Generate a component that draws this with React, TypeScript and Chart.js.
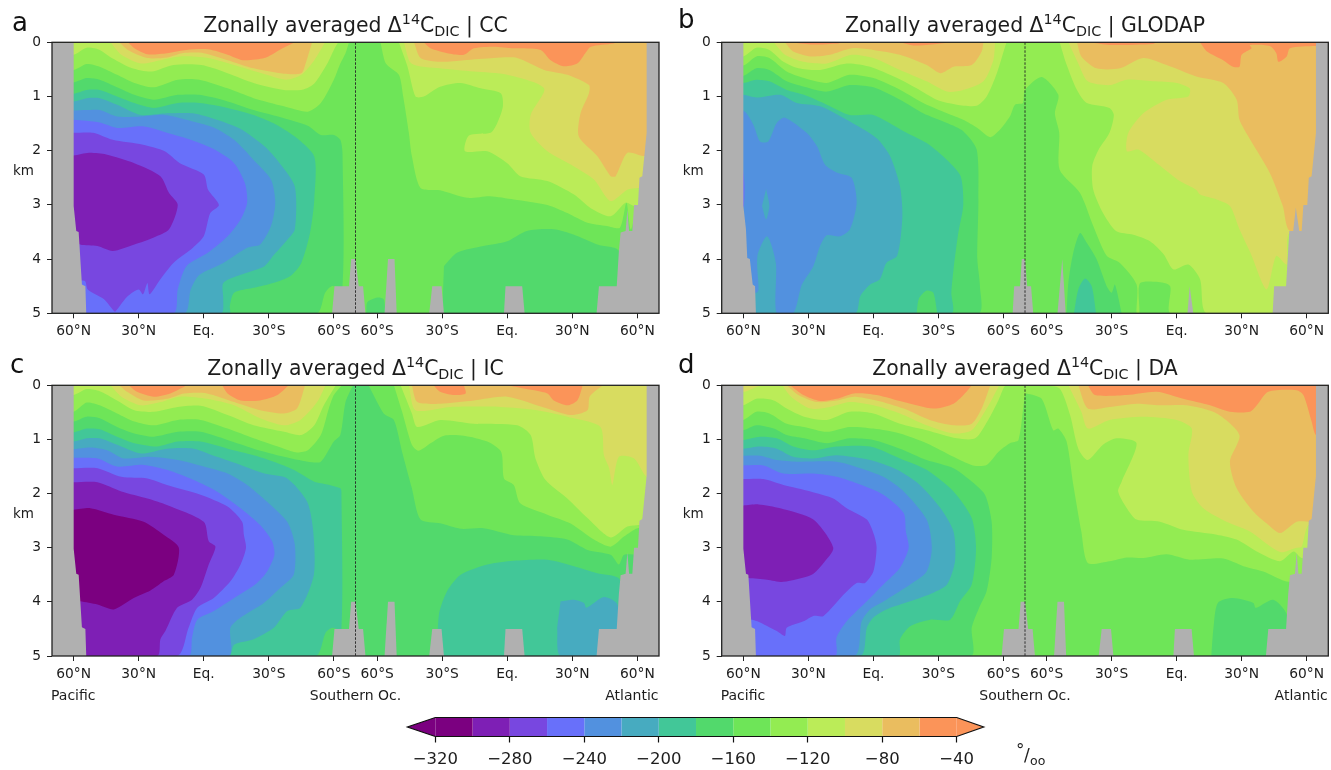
import React, { useEffect, useRef } from "react";
import { Chart, registerables } from "chart.js";
Chart.register(...registerables);

const FONT = '"DejaVu Sans"';
const INK = "#1c1c1c";
const bandColors = ["#7b0080","#7e1fb5","#7847e0","#6870fa","#5291df","#47abc0","#42c798","#52d96c","#6ee558","#93ec52","#bbec58","#d8dc60","#eabd5f","#fb9459"];
const [C320,C300,C280,C260,C240,C220,C200,C180,C160,C140,C120,C100,C80,C60] = bandColors;
const LAND = "#b0b0b0";

const xTickValues = [-130,-100,-70,-40,-10,10,40,70,100,130];
const xTickLabels = ["60°N","30°N","Eq.","30°S","60°S","60°S","30°S","Eq.","30°N","60°N"];
const yTickValues = [0,1,2,3,4,5];
const frame = [[-140,0],[140,0],[140,5],[-140,5]];
const dateLine = [[0,0],[0,5]];

// Land masks (section position, km)
const landWestA = [[-140,0],[-130,0],[-130,3.02],[-128.8,3.48],[-127.7,3.5],[-126.2,4.47],[-124.6,4.5],[-124.2,5],[-140,5]];
const landMidA = [[-10.8,5],[-9.7,4.5],[-3,4.5],[-2,4],[0,4],[1.5,4.5],[3.5,4.5],[4.6,5]];
const landR1A = [[13.4,5],[15,4],[18,4],[19,5]];
const landR2A = [[34,5],[35.4,4.5],[39.7,4.5],[40.8,5]];
const landR3A = [[68.5,5],[69.2,4.5],[76.9,4.5],[78,5]];
const landEastA = [[111.2,5],[112.3,4.5],[120.5,4.5],[121.5,3.85],[122.3,3.51],[124.6,3.48],[125.4,3.09],[126.2,3.48],[127.7,3.48],[128.5,3],[130.3,3],[131,2.5],[132.3,2.47],[134.3,1.67],[134.3,0],[140,0],[140,5]];
const landWestB = [[-140,0],[-130,0],[-130,3.02],[-128.8,3.45],[-128.2,3.98],[-127,4],[-125.7,4.47],[-124.6,4.5],[-124.2,5],[-140,5]];
const landMidB = [[-5.7,5],[-5,4.5],[-2.3,4.5],[-1.5,4],[0,4],[1,4.5],[2.8,4.5],[3.8,5]];
const landR1B = [[15,5],[17.2,4],[18.8,5]];
const landR3B = [[75,5],[76,4.5],[77.7,5]];
const landEastB = [[114.3,5],[115,4.5],[120.5,4.5],[122,3.48],[123.8,3.48],[125,3.05],[126.6,3.48],[127.7,3.48],[128.5,3],[130.3,3],[131,2.5],[132.3,2.47],[134.3,1.67],[134.3,0],[140,0],[140,5]];

// Panel a: CC
const aW1 = [[-140,0],[-140,.51],[-130,.51],[-124,.4],[-118,.45],[-110,.6],[-102,.75],[-93,.83],[-82,.69],[-72,.69],[-59,.85],[-47,1.03],[-33,1.18],[-22,1.28],[-16,1.12],[-10,.69],[-7,.39],[-4.6,.2],[-3,0]];
const aW2 = [[-140,0],[-140,.23],[-130,.23],[-124,.1],[-118,.14],[-112,.3],[-103,.48],[-94,.54],[-84,.42],[-71,.42],[-59,.57],[-47,.75],[-33,.88],[-24,.87],[-19,.76],[-13,.39],[-10,.14],[-8,0]];
const aW3 = [[-113,0],[-108,.23],[-99,.39],[-90,.33],[-81,.26],[-68,.29],[-56,.42],[-41,.6],[-32,.69],[-25,.6],[-19,.33],[-14,0]];
const aW4 = [[-109,0],[-105,.14],[-96,.29],[-87,.28],[-80,.2],[-70,.2],[-59,.33],[-47,.48],[-33,.58],[-25,.57],[-23,.39],[-20,0]];
const aW5 = [[-105,0],[-102,.11],[-96,.22],[-87,.2],[-78,.14],[-68,.13],[-59,.23],[-52,.33],[-42,.29],[-35,.14],[-28,0]];
const aC1 = [[-140,.74],[-130,.74],[-124,.66],[-118,.69],[-110,.83],[-102,.97],[-93,1.06],[-82,.97],[-72,.97],[-59,1.09],[-47,1.25],[-33,1.4],[-22,1.54],[-16,1.71],[-10,1.71],[-7,1.8],[-6,2.04],[-6,4.5],[-11,4.5],[-14,4.62],[-18,5],[-140,5]];
const aC2 = [[-140,.95],[-130,.95],[-124,.88],[-118,.88],[-110,1],[-102,1.12],[-93,1.21],[-82,1.12],[-72,1.12],[-59,1.21],[-47,1.34],[-38,1.49],[-28,1.74],[-19,2.11],[-19,2.9],[-21,3.52],[-25,4.07],[-30,4.31],[-38,4.44],[-47,4.53],[-56,4.62],[-58,4.87],[-58,5],[-140,5]];
const aC3 = [[-140,1.09],[-130,1.09],[-124,1.03],[-118,1.03],[-110,1.15],[-99,1.34],[-87,1.31],[-75,1.31],[-64,1.43],[-53,1.6],[-42,1.92],[-35,2.23],[-28,2.66],[-28,3.45],[-32,3.67],[-38,3.94],[-42,4.13],[-53,4.29],[-61,4.44],[-61,4.74],[-62,5],[-140,5]];
const aC4 = [[-140,1.26],[-130,1.26],[-124,1.25],[-118,1.25],[-110,1.37],[-99,1.37],[-88,1.34],[-78,1.43],[-65,1.58],[-56,1.8],[-47,2.17],[-39,2.53],[-37,2.96],[-39,3.39],[-44,3.73],[-50,3.79],[-61,4.07],[-72,4.29],[-76,4.56],[-79,5],[-140,5]];
const aC5 = [[-140,1.43],[-130,1.43],[-118,1.48],[-110,1.58],[-98,1.55],[-87,1.67],[-76,1.8],[-65,1.98],[-56,2.23],[-51,2.6],[-50,2.96],[-53,3.27],[-59,3.58],[-68,3.88],[-78,4.13],[-82,4.56],[-84,5],[-140,5]];
const aC6 = [[-140,1.67],[-130,1.67],[-121,1.67],[-112,1.8],[-98,1.89],[-88,2.01],[-81,2.23],[-70,2.44],[-68,2.72],[-63,3],[-67,3.15],[-70,3.58],[-75,3.79],[-84,4.07],[-90,4.37],[-95,4.65],[-96,4.44],[-98,4.65],[-100,4.56],[-105,4.68],[-110,4.93],[-111,4.97],[-116,4.74],[-123.5,4.56],[-125,4.4],[-140,4.4]];
const aC7 = [[-140,2.09],[-130,2.09],[-123,2.04],[-115,2.07],[-102,2.23],[-90,2.47],[-86,2.78],[-82,3],[-86,3.45],[-93,3.6],[-102,3.73],[-112,3.85],[-119,3.76],[-127,3.73],[-140,3.5]];
const aAW1 = [[11.5,0],[14,.39],[20,.6],[22,1],[24.6,1.67],[26,2.1],[30,2.69],[39,2.73],[51.5,2.87],[62,2.84],[73,2.9],[88.5,3],[97.7,3.15],[107,3.33],[116,3.39],[122,3.42],[125,2.96],[127,3.45],[131,3.02],[140,3],[140,0]];
const aAW2 = [[20,0],[24,.45],[27.7,1],[31.5,1],[39,.82],[48.5,.75],[57.7,.85],[67,.94],[68,1.18],[65.4,1.49],[62.3,1.67],[52.3,1.72],[50.5,2.01],[60.8,2.01],[70,2.23],[76,2.47],[88.5,2.56],[100.8,2.81],[108.5,3.06],[117.7,3.21],[124.6,2.96],[128.5,3.02],[140,3],[140,0]];
const aAW3 = [[22.3,0],[25.8,.39],[39,.48],[54.6,.54],[70,.6],[87,.85],[80.8,1.34],[80.8,1.67],[88.5,2.01],[100.8,2.29],[110,2.53],[117.7,2.93],[125.4,2.72],[130.5,2.69],[140,2.7],[140,0]];
const aAW4 = [[27,0],[30,.29],[39,.36],[50,.33],[63.8,.29],[74.6,.29],[87,.51],[97.7,.6],[107.7,.79],[107.7,.94],[103.8,1.31],[103,1.74],[111.5,2.1],[117.7,2.47],[120,2.47],[125.4,2.04],[133,2.1],[140,2.1],[140,0]];
const aAW5 = [[31.5,0],[34.6,.11],[42.3,.2],[50,.23],[54.6,.11],[63.8,.08],[73,.11],[85.4,.14],[90,.33],[96,.44],[102.3,.39],[106,.2],[108.5,.08],[119,.02],[120.8,0]];
const aSC1 = [[5,5],[5.4,4.8],[10,4.71],[13,4.74],[13.8,5]];
const aAC1 = [[40.8,4.13],[47,3.88],[59,3.76],[70,3.67],[79,3.48],[91.5,3.45],[100.8,3.55],[111.5,3.73],[121.5,3.85],[121.5,5],[40,5]];

// Panel b: GLODAP
const bW1 = [[-140,.43],[-130,.43],[-124,.26],[-118,.29],[-110,.54],[-102,.66],[-91.5,.75],[-81,.6],[-70,.66],[-59,.85],[-47,1.12],[-36,1.31],[-28.5,1.43],[-22,1.58],[-16,1.75],[-11.5,1.61],[-7,1.37],[-4.6,1.15],[-1,1.12],[0,.88],[7.7,.64],[15.4,.97],[13.8,1.31],[15.8,1.67],[16,2.35],[25.4,2.78],[31.5,3.39],[37.7,3.94],[43.8,4.07],[51.5,4.47],[51.5,5],[52.8,5],[53,4.45],[60.8,4.42],[67,4.5],[67.4,5],[140,5],[140,0],[-140,0]];
const bW2 = [[-140,0],[-140,.26],[-130,.26],[-124,.1],[-118,.14],[-111.5,.36],[-104.6,.48],[-94.6,.51],[-82.3,.39],[-71.5,.45],[-59,.66],[-50,.85],[-40.8,1.06],[-31.5,1.15],[-22.3,1.17],[-17.7,1],[-13,.57],[-9.2,.08],[-8.5,0]];
const bW3 = [[-116,0],[-110.8,.23],[-102.3,.36],[-91.5,.39],[-80,.23],[-70,.29],[-57.7,.51],[-45.4,.72],[-36,.91],[-28.5,.88],[-19.2,.72],[-14.6,.33],[-13.8,0]];
const bW4 = [[-110.8,0],[-107,.17],[-99,.26],[-90,.23],[-80,.11],[-70,.14],[-57.7,.23],[-45.4,.42],[-39,.57],[-33,.45],[-24.6,.42],[-20,.17],[-19.2,0]];
const bW5a = [[-108,0],[-99,.04],[-86,.02],[-85,0]];
const bW5b = [[-57.7,0],[-51.5,.06],[-40.8,.03],[-33,0]];
const bAW2 = [[16,0],[19,.39],[24,.88],[28.5,1.12],[39,1.21],[41,1.34],[39,1.67],[34,1.98],[31,2.29],[31.5,2.72],[36,3.15],[42,3.48],[50,3.55],[57.7,3.67],[64,3.91],[68.5,4.19],[75.4,4.1],[80.8,4.37],[84,5],[140,5],[140,0]];
const bAW3 = [[20,0],[24.6,.39],[29,.72],[39,.79],[47,.69],[59,.72],[70,.75],[76,.85],[75.4,1],[65.4,1.06],[54.6,1.31],[47.7,1.67],[47,2.01],[52.3,1.98],[60.8,2.23],[71.5,2.56],[79,2.72],[80.8,2.81],[88.5,2.9],[94.6,3.02],[99,3.45],[104,3.88],[111.5,4.56],[116,3.94],[120.8,4.1],[122,3.52],[140,3.5],[140,0]];
const bAW4 = [[24,0],[26,.26],[33,.48],[43.8,.48],[54.6,.29],[65.4,.42],[79,.63],[91.5,.75],[97.7,1.06],[99,1.43],[104,1.8],[113,2.41],[119,3.02],[122.3,3.48],[140,3.48],[140,0]];
const bAW5a = [[30,0],[39,.05],[59,.03],[60.8,0]];
const bAW5b = [[80.8,0],[84,.17],[91.5,.33],[96,.45],[99,.45],[100,.23],[104.6,.11],[103.8,.05],[113,.07],[116,.2],[117,.36],[120.8,.26],[122.3,.11],[134,.07],[140,.07],[140,0]];
const bC1 = [[-140,.62],[-130,.62],[-124,.48],[-118,.51],[-110,.72],[-102,.82],[-91.5,.91],[-81,.79],[-70,.83],[-57.7,1.06],[-47,1.31],[-36,1.49],[-28.5,1.64],[-22.3,1.98],[-21.5,2.9],[-22,4],[-20.8,4.5],[-21.5,5],[-140,5]];
const bC2 = [[-140,.75],[-130,.75],[-124,.69],[-118,.72],[-110,.88],[-102,.97],[-91.5,1.15],[-81,1.34],[-70,1.34],[-56,1.64],[-45.4,1.86],[-36,2.17],[-29.7,2.47],[-28.5,3],[-30.8,3.52],[-33,4.19],[-34,4.62],[-34,5],[-140,5]];
const bC1Lobe = [[-50,5],[-49,4.73],[-45.4,4.58],[-42.3,4.62],[-40.5,5]];
const bC3 = [[-140,.97],[-130,.97],[-124,1.02],[-113,.97],[-105.4,1.12],[-94.6,1.18],[-82.3,1.43],[-68.5,1.77],[-62.3,2.1],[-57.7,2.66],[-56.6,3.21],[-59,3.94],[-64,4.07],[-67,4.37],[-71.5,4.47],[-76,4.68],[-78.5,5],[-140,5]];
const bC4 = [[-140,1.26],[-130,1.26],[-125.4,1.52],[-122.3,1.83],[-118.5,1.83],[-114.6,1.49],[-110.8,1.39],[-100.8,1.67],[-96,1.92],[-92.3,2.26],[-87,2.4],[-80,2.5],[-77.7,2.96],[-80.8,3.45],[-85.4,3.58],[-91.5,3.56],[-94.6,3.76],[-97.7,4.13],[-103,4.47],[-107,5],[-114.6,5],[-115,4.07],[-119,3.58],[-123.5,3.94],[-123,4.56],[-124,4.62],[-140,4.62]];
const bC3Hole = [[-119.5,2.7],[-118,3.02],[-119.5,3.27],[-121.4,3.02]];
const bC5 = [[-131,2.1],[-129.5,2.6],[-129.8,3.03],[-131,3.03]];
const bAC1 = [[19.2,5],[20,4.44],[22.3,3.88],[25.4,3.52],[28.5,3.7],[33,4],[37.7,4.5],[40,4.62],[41.5,4.47],[44.6,5]];
const bAC2 = [[22.6,5],[24.6,4.56],[27.7,4.36],[30.8,4.5],[32.8,5]];

// Panel c: IC
const cW0 = [[-140,0],[-140,.67],[-130,.67],[-124,.58],[-118,.61],[-110,.77],[-102,.89],[-93,.95],[-82,.86],[-71.5,.86],[-59,1.01],[-47,1.17],[-33,1.32],[-22,1.41],[-16,1.41],[-10,1.04],[-7,.92],[-4.6,.31],[-1.5,.03],[-.8,0]];
const cW1 = [[-140,0],[-140,.49],[-130,.49],[-124,.32],[-118,.37],[-110,.52],[-102,.67],[-93,.74],[-82,.64],[-71.5,.64],[-59,.8],[-47,.98],[-33,1.17],[-27,1.24],[-22,1.2],[-16,.92],[-12.3,.43],[-10,.18],[-7,.03],[-6,0]];
const cW2 = [[-140,0],[-140,.18],[-130,.18],[-124,.07],[-118,.11],[-110,.28],[-102,.46],[-93,.49],[-82,.4],[-71.5,.38],[-59,.55],[-47,.74],[-33,.86],[-25,.92],[-19,.74],[-14.6,.37],[-10,.06],[-9,0]];
const cW3 = [[-113,0],[-108,.21],[-99,.37],[-90,.31],[-81,.21],[-68.5,.25],[-56,.37],[-44,.61],[-33,.74],[-25.4,.64],[-17.7,.31],[-13.8,0]];
const cW4 = [[-109,0],[-105.4,.12],[-97.7,.28],[-87,.25],[-79,.15],[-68.5,.15],[-56,.31],[-44,.46],[-33,.52],[-27,.43],[-23.5,.03],[-23.5,0]];
const cW5a = [[-104.6,0],[-100.8,.12],[-93,.21],[-85.4,.15],[-77.7,0]];
const cW5b = [[-61.5,0],[-59,.15],[-53,.28],[-44,.28],[-36,.18],[-30.8,0]];
const cC2 = [[-140,.87],[-130,.87],[-124,.8],[-118,.81],[-110,.95],[-102,1.07],[-91.5,1.13],[-82,1.04],[-71.5,1.04],[-59,1.17],[-47,1.29],[-37.7,1.41],[-28.5,1.56],[-19,1.78],[-13,1.83],[-7,1.9],[-6.5,1.96],[-6.5,4.5],[-10.8,4.48],[-13.8,4.57],[-18.5,5],[-140,5]];
const cC3 = [[-140,1.04],[-130,1.04],[-124,.98],[-118,.98],[-110,1.1],[-99,1.26],[-87,1.17],[-74.6,1.17],[-64,1.32],[-53,1.47],[-42,1.63],[-31.5,1.72],[-22.3,2.15],[-19.5,2.7],[-19.2,3.5],[-25.4,4.11],[-31.5,4.17],[-37.7,4.48],[-47,4.69],[-56,4.79],[-58.5,5],[-140,5]];
const cC4 = [[-140,1.18],[-130,1.18],[-122.3,1.15],[-114.6,1.2],[-107,1.35],[-94.6,1.32],[-82,1.38],[-70,1.5],[-59,1.63],[-50,1.84],[-40.8,2.15],[-31.5,2.52],[-28,2.94],[-28.5,3.5],[-34.6,3.74],[-42.3,4.02],[-53,4.29],[-57.7,4.48],[-58.5,5],[-140,5]];
const cC5 = [[-140,1.34],[-130,1.34],[-119,1.35],[-110,1.5],[-97.7,1.47],[-87,1.56],[-74.6,1.75],[-64,1.96],[-53,2.27],[-44,2.58],[-38.5,2.88],[-37.4,3.13],[-40.8,3.44],[-45.4,3.65],[-56,3.93],[-65.4,4.17],[-73,4.33],[-75.4,4.66],[-77,5],[-140,5]];
const cC6 = [[-140,1.53],[-130,1.53],[-119,1.53],[-108,1.69],[-96,1.72],[-87,1.84],[-71.5,2.02],[-59,2.24],[-52.3,2.52],[-51.5,2.76],[-50.5,3],[-53,3.31],[-57.7,3.62],[-65.4,3.93],[-73,4.11],[-77,4.48],[-82.3,5],[-140,5]];
const cC7 = [[-140,1.79],[-130,1.79],[-119,1.79],[-108,1.96],[-96,2.09],[-87,2.21],[-70,2.52],[-67.7,2.88],[-64.6,2.98],[-67.7,3.31],[-71.5,3.74],[-75.4,3.96],[-82.3,4.11],[-87.7,4.54],[-90,4.69],[-91.5,5],[-140,5]];
const cC8 = [[-140,2.3],[-130,2.3],[-122.3,2.27],[-111.5,2.39],[-97.7,2.52],[-88.5,2.76],[-81.5,3],[-83.8,3.5],[-88.5,3.62],[-94.6,3.79],[-102.3,3.93],[-111.5,4.14],[-119,4.05],[-127,3.99],[-140,3.9]];
const cAW0 = [[6,0],[13,.52],[17.7,.64],[21.5,1.23],[26,1.9],[30,2.48],[39,2.55],[48.5,2.65],[59,2.64],[73,2.77],[85.4,2.79],[97.7,2.85],[107,3.04],[117.7,3.13],[121.5,3.31],[124,3.13],[140,3.1],[140,0]];
const cAW1 = [[17.7,0],[21.5,.49],[26,1.1],[29,1.21],[34.6,1.07],[40.8,.93],[50,.93],[60.8,1.04],[67.2,1.23],[68.5,1.72],[73,1.84],[76,2.18],[88.5,2.39],[99,2.55],[110,2.85],[117.7,2.98],[124,2.79],[130,2.64],[140,2.6],[140,0]];
const cAW2 = [[20.8,0],[26,.52],[28.5,.77],[39,.64],[54.6,.71],[74.6,.74],[80.8,.92],[83,1.35],[87.7,1.75],[97.7,2.09],[107,2.45],[117.7,2.81],[125.4,2.61],[130.5,2.58],[140,2.5],[140,0]];
const cAW3 = [[24.6,0],[27.7,.46],[43.8,.4],[67,.4],[83.8,.46],[100.8,.61],[113,.77],[114.6,1.29],[117,1.53],[118.5,1.84],[121.5,1.32],[128.5,1.35],[134.3,1.69],[140,1.7],[140,0]];
const cAW4 = [[26,0],[28.5,.31],[39,.34],[54.6,.28],[70,.21],[88.5,.43],[99,.55],[107,.46],[108,.21],[113,.03],[114.6,0]];
const cAW5a = [[36,0],[39,.12],[45,.18],[50.8,.15],[50,0]];
const cAW5b = [[70,0],[77.7,.06],[88.5,.15],[91.5,.28],[97.7,.37],[102.3,.28],[104.6,.03],[104.6,0]];
const cAC2 = [[37.7,5],[38.5,4.23],[42.3,3.8],[48.5,3.5],[60.8,3.31],[73,3.24],[88.5,3.22],[100.8,3.34],[111.5,3.47],[122,3.59],[122,5]];
const cAC3 = [[94.6,3.99],[100.8,3.96],[105.4,4.02],[106.5,4.11],[114.6,3.91],[120.8,4.05],[122,5],[94.6,5],[93,4.48]];

// Panel d: DA
const dW1 = [[-140,.64],[-130,.64],[-124,.49],[-118,.52],[-110,.71],[-102,.77],[-91.5,.86],[-81,.77],[-70,.8],[-57.7,.89],[-45.4,1.07],[-33,1.32],[-24,1.48],[-17.7,1.47],[-12.3,1.23],[-7,1.07],[-3,1.01],[0,.17],[.8,.15],[7.7,.25],[13,.83],[15.4,.8],[19.2,1.04],[22.3,1.84],[26,2.7],[29,3.28],[39,3.25],[47,3.18],[54.6,3.19],[65.4,3.12],[76,3.22],[91.5,3.2],[100.8,3.34],[110,3.44],[121.5,3.63],[140,3.6],[140,0],[-140,0]];
const dW2 = [[-140,0],[-140,.37],[-130,.37],[-124,.25],[-116,.28],[-110,.43],[-102,.58],[-91.5,.64],[-81,.49],[-70,.52],[-57.7,.71],[-45.4,.83],[-31.5,.98],[-23,.98],[-17,.64],[-12.3,.28],[-10,.06],[-9,0]];
const dW3 = [[-112,0],[-108,.21],[-99,.43],[-90,.4],[-81,.31],[-70,.37],[-57.7,.52],[-45.4,.74],[-33,.89],[-24.6,.83],[-17.7,.43],[-12.3,.03],[-12,0]];
const dW3Left = [[-140,0],[-130,.12],[-124,.03],[-121,0]];
const dW4 = [[-110,0],[-104.6,.18],[-96,.31],[-87,.28],[-79,.21],[-68.5,.28],[-56,.43],[-44,.64],[-33,.74],[-24.6,.71],[-20,.43],[-16,0]];
const dW5 = [[-108.5,0],[-102.3,.18],[-94.6,.29],[-87,.25],[-79,.15],[-68.5,.18],[-56,.31],[-42.3,.43],[-33,.34],[-27,.12],[-24.6,0]];
const dC1 = [[-140,.83],[-130,.83],[-124,.74],[-116,.8],[-110,.92],[-102,.98],[-91.5,1.07],[-81,.98],[-70,1.01],[-57.7,1.17],[-45.4,1.38],[-33,1.53],[-25.4,1.75],[-18.5,2.02],[-15.4,2.52],[-15.4,3.19],[-17.7,3.8],[-21.5,4.14],[-24.6,4.48],[-25,5],[-140,5]];
const dC2 = [[-140,1.01],[-130,1.01],[-122.3,.95],[-114.6,.98],[-107,1.13],[-97.7,1.2],[-87,1.13],[-71.5,1.13],[-57.7,1.35],[-45.4,1.56],[-33,1.96],[-24.6,2.45],[-22.6,3],[-24.6,3.68],[-30,3.99],[-34.6,4.33],[-43.8,4.33],[-53,4.45],[-57.7,4.69],[-58.5,5],[-140,5]];
const dC3 = [[-140,1.17],[-130,1.17],[-122.3,1.13],[-114.6,1.17],[-107,1.32],[-97.7,1.35],[-87,1.29],[-71.5,1.38],[-59,1.56],[-48.5,1.84],[-39,2.27],[-33,2.7],[-32.3,3.25],[-36,3.68],[-42.3,3.83],[-53,3.99],[-64,4.14],[-70,4.29],[-73,4.48],[-76,5],[-140,5]];
const dC4 = [[-140,1.3],[-130,1.3],[-122.3,1.3],[-114.6,1.38],[-105.4,1.41],[-87,1.41],[-76,1.53],[-65.4,1.69],[-56,1.96],[-45.4,2.48],[-43,3],[-45.4,3.44],[-53,3.68],[-64,3.96],[-71.5,4.14],[-75.4,4.36],[-78.8,5],[-140,5]];
const dC5 = [[-140,1.48],[-130,1.48],[-120.8,1.48],[-111.5,1.63],[-97.7,1.63],[-87,1.69],[-77.7,1.81],[-65.4,2.02],[-56,2.36],[-55,2.7],[-53.7,3],[-57.7,3.37],[-65.4,3.68],[-73,3.99],[-82.3,4.36],[-87,4.66],[-87.7,5],[-140,5]];
const dC6 = [[-140,1.73],[-130,1.73],[-120.8,1.73],[-111.5,1.84],[-99,1.96],[-88.5,2.09],[-82.3,2.27],[-73,2.48],[-69.7,2.76],[-68.5,3],[-70,3.44],[-73.8,3.65],[-77.7,3.65],[-83.8,3.87],[-93,4.26],[-97.7,4.26],[-102.3,4.36],[-110,4.48],[-110.8,4.63],[-114.6,4.54],[-123.5,4.36],[-126,4.33],[-140,4.3]];
const dC7 = [[-140,2.22],[-130,2.22],[-123,2.2],[-113,2.27],[-97.7,2.48],[-88.5,3],[-93,3.28],[-98.5,3.5],[-111.5,3.63],[-119,3.59],[-127.7,3.56],[-140,3.5]];
const dAW2 = [[9.2,0],[16,.06],[20.8,.55],[24.6,1.17],[29,1.38],[36,1.1],[42.3,.98],[51.5,1.07],[44.6,1.78],[43,1.96],[47,2.27],[51.5,2.48],[62.3,2.52],[73,2.67],[88.5,2.76],[97.7,2.85],[107,3.07],[117.7,3.25],[124,3.07],[127.7,3.19],[140,3.2],[140,0]];
const dAW3 = [[20,0],[26,.49],[29,.8],[39,.64],[54.6,.58],[70,.64],[77,.8],[75.4,1.29],[77,1.96],[82.3,2.27],[93,2.52],[103.8,2.7],[117.7,3.08],[125.4,3],[127.7,2.98],[130.8,2.58],[140,2.5],[140,0]];
const dAW4 = [[24.6,0],[29,.43],[39,.4],[51.5,.34],[62.3,.37],[74.6,.37],[88.5,.52],[99,.92],[94.6,1.41],[97.7,1.9],[105.4,2.33],[111.5,2.55],[117.7,2.73],[125.4,2.52],[132.3,2.52],[140,2.5],[140,0]];
const dAW5 = [[29,0],[32.3,.18],[47,.18],[60.8,.12],[73,.25],[85.4,.37],[94.6,.49],[103.8,.49],[107,.37],[112.3,.12],[125.4,.09],[128.5,.18],[132.3,.67],[134.3,.92],[140,1],[140,0]];
const dAC1 = [[86,5],[87,4.48],[89,4.02],[96,3.93],[105.4,4.02],[106.5,4.11],[114.6,3.96],[120.8,4.23],[122,5]];

const landA = [[landWestA,LAND],[landMidA,LAND],[landR1A,LAND],[landR2A,LAND],[landR3A,LAND],[landEastA,LAND]];
const landB = [[landWestB,LAND],[landMidB,LAND],[landR1B,LAND],[landR3B,LAND],[landEastB,LAND]];

const layersA = [[frame,C160],[aW1,C140],[aW2,C120],[aW3,C100],[aW4,C80],[aW5,C60],[aAW1,C140],[aAW2,C120],[aAW3,C100],[aAW4,C80],[aAW5,C60],[aC1,C180],[aSC1,C180],[aAC1,C180],[aC2,C200],[aC3,C220],[aC4,C240],[aC5,C260],[aC6,C280],[aC7,C300],...landA];
const layersB = [[frame,C160],[bW1,C140],[bW2,C120],[bW3,C100],[bW4,C80],[bW5a,C60],[bW5b,C60],[bAW2,C120],[bAW3,C100],[bAW4,C80],[bAW5a,C60],[bAW5b,C60],[bC1,C180],[bC2,C200],[bC1Lobe,C180],[bC3,C220],[bC4,C240],[bC3Hole,C220],[bC5,C260],[bAC1,C180],[bAC2,C200],...landB];
const layersC = [[frame,C180],[cW0,C160],[cW1,C140],[cW2,C120],[cW3,C100],[cW4,C80],[cW5a,C60],[cW5b,C60],[cAW0,C160],[cAW1,C140],[cAW2,C120],[cAW3,C100],[cAW4,C80],[cAW5a,C60],[cAW5b,C60],[cC2,C200],[cC3,C220],[cC4,C240],[cC5,C260],[cC6,C280],[cC7,C300],[cC8,C320],[cAC2,C200],[cAC3,C220],...landA];
const layersD = [[frame,C160],[dW1,C140],[dW2,C120],[dW3,C100],[dW3Left,C100],[dW4,C80],[dW5,C60],[dAW2,C120],[dAW3,C100],[dAW4,C80],[dAW5,C60],[dC1,C180],[dC2,C200],[dC3,C220],[dC4,C240],[dC5,C260],[dC6,C280],[dC7,C300],[dAC1,C180],...landA];

// Colour bar
const cbEdges = [-320,-300,-280,-260,-240,-220,-200,-180,-160,-140,-120,-100,-80,-60,-40];
const cbTicks = [-320,-280,-240,-200,-160,-120,-80,-40];
const cbMin = -335;
const cbMax = -25.5;

const polygonSet = (pts, color, tension = 0) => ({
  data: pts.map(([x, y]) => ({ x, y })),
  showLine: true, fill: "shape", backgroundColor: color, borderColor: color,
  borderWidth: 0, pointRadius: 0, tension,
});

const drawText = (ctx, text, x, y, size, align = "center", color = INK) => {
  ctx.font = `${size}px ${FONT}`;
  ctx.fillStyle = color;
  ctx.textAlign = align;
  ctx.textBaseline = "alphabetic";
  ctx.fillText(text, x, y);
};

const drawTitle = (ctx, cx, y, tail) => {
  const big = 20.4, small = 14.3;
  const parts = [["Zonally averaged \u0394", big, 0], ["14", small, -8], ["C", big, 0], ["DIC", small, 4], [" | " + tail, big, 0]];
  let total = 0;
  for (const [t, s] of parts) { ctx.font = `${s}px ${FONT}`; total += ctx.measureText(t).width; }
  let x = cx - total / 2;
  for (const [t, s, dy] of parts) {
    drawText(ctx, t, x, y + dy, s, "left");
    x += ctx.measureText(t).width;
  }
};

const panels = [
  { tail: "CC", letter: "a", letterX: 12, letterY: 31, layers: layersA, left: 0, top: 0, width: 668, height: 345, axL: 52, axR: 659, axT: 42.3, axB: 313.3, footer: false },
  { tail: "GLODAP", letter: "b", letterX: 678, letterY: 28, layers: layersB, left: 668, top: 0, width: 663, height: 345, axL: 721.7, axR: 1328.3, axT: 42.3, axB: 313.3, footer: false },
  { tail: "IC", letter: "c", letterX: 10, letterY: 373, layers: layersC, left: 0, top: 345, width: 668, height: 365, axL: 52, axR: 659, axT: 385.3, axB: 656, footer: true },
  { tail: "DA", letter: "d", letterX: 678, letterY: 373, layers: layersD, left: 668, top: 345, width: 663, height: 365, axL: 721.7, axR: 1328.3, axT: 385.3, axB: 656, footer: true },
];

const canvasStyle = (left, top, width, height) => ({ position: "absolute", left, top, width, height, filter: "blur(0.4px)" });

function PanelChart({ p }) {
  const ref = useRef(null);
  useEffect(() => {
    const decor = {
      id: "decor",
      afterDraw(chart) {
        const { ctx, chartArea: a } = chart;
        ctx.save();
        ctx.strokeStyle = "#222";
        ctx.lineWidth = 1.3;
        ctx.strokeRect(a.left, a.top, a.right - a.left, a.bottom - a.top);
        drawTitle(ctx, (a.left + a.right) / 2, a.top - 10, p.tail);
        drawText(ctx, p.letter, p.letterX - p.left, p.letterY - p.top, 26, "left", "#111");
        drawText(ctx, "km", a.left - 28.5, a.top + 133, 13.5);
        if (p.footer) {
          const fy = a.bottom + 44;
          drawText(ctx, "Pacific", a.left - 1, fy, 14, "left");
          drawText(ctx, "Southern Oc.", (a.left + a.right) / 2, fy, 14);
          drawText(ctx, "Atlantic", a.right - 0.5, fy, 14, "right");
        }
        ctx.restore();
      },
    };
    const datasets = [
      ...p.layers.map(([pts, color]) => polygonSet(pts, color, color === LAND || pts === frame ? 0 : 0.25)),
      { data: dateLine.map(([x, y]) => ({ x, y })), showLine: true, fill: false, borderColor: "#222", borderWidth: 0.9, borderDash: [2.5, 1.5], pointRadius: 0 },
    ].reverse();
    const chart = new Chart(ref.current, {
      type: "scatter",
      data: { datasets },
      plugins: [decor],
      options: {
        animation: false, responsive: false, events: [],
        layout: { padding: { top: p.axT - p.top, right: p.left + p.width - p.axR, left: 0, bottom: 0 } },
        plugins: { legend: { display: false }, title: { display: false }, tooltip: { enabled: false } },
        scales: {
          x: {
            type: "linear", min: -140, max: 140,
            afterBuildTicks: (s) => { s.ticks = xTickValues.map((value) => ({ value })); },
            afterFit: (s) => { s.height = p.top + p.height - p.axB; },
            ticks: { autoSkip: false, maxRotation: 0, padding: 5, color: INK, font: { family: FONT, size: 13.8 }, callback: (v) => xTickLabels[xTickValues.indexOf(v)] },
            grid: { display: true, drawOnChartArea: false, drawTicks: true, tickLength: 5, tickColor: "#222", tickWidth: 1 },
            border: { display: false },
          },
          y: {
            type: "linear", min: 0, max: 5, reverse: true,
            afterBuildTicks: (s) => { s.ticks = yTickValues.map((value) => ({ value })); },
            afterFit: (s) => { s.width = p.axL - p.left; },
            ticks: { padding: 6, color: INK, font: { family: FONT, size: 13.8 } },
            grid: { display: true, drawOnChartArea: false, drawTicks: true, tickLength: 5, tickColor: "#222", tickWidth: 1 },
            border: { display: false },
          },
        },
      },
    });
    return () => chart.destroy();
  }, [p]);
  return <canvas ref={ref} width={p.width} height={p.height} style={canvasStyle(p.left, p.top, p.width, p.height)} />;
}

function ColorBar() {
  const ref = useRef(null);
  useEffect(() => {
    const W = 670, H = 65;
    const decor = {
      id: "cbdecor",
      afterDraw(chart) {
        const { ctx } = chart;
        ctx.save();
        drawText(ctx, "°", 621, 51, 17, "left");
        drawText(ctx, "/", 629, 56, 17, "left");
        drawText(ctx, "oo", 635, 60, 12.5, "left");
        ctx.restore();
      },
    };
    const bands = bandColors.map((color, i) => polygonSet([[cbEdges[i], 0], [cbEdges[i + 1], 0], [cbEdges[i + 1], 1], [cbEdges[i], 1]], color));
    const tipL = polygonSet([[-320, 0], [cbMin, 0.5], [-320, 1]], bandColors[0]);
    const tipR = polygonSet([[-40, 0], [cbMax, 0.5], [-40, 1]], bandColors[13]);
    const outlinePts = [[-320, 0], [-40, 0], [cbMax, 0.5], [-40, 1], [-320, 1], [cbMin, 0.5], [-320, 0]];
    const outline = { data: outlinePts.map(([x, y]) => ({ x, y })), showLine: true, fill: false, borderColor: "#111", borderWidth: 1.2, pointRadius: 0, clip: 3 };
    const chart = new Chart(ref.current, {
      type: "scatter",
      data: { datasets: [outline, tipL, tipR, ...bands] },
      plugins: [decor],
      options: {
        animation: false, responsive: false, events: [],
        layout: { padding: { left: 12.4, right: W - 588.7, top: 12.5, bottom: 0 } },
        plugins: { legend: { display: false }, title: { display: false }, tooltip: { enabled: false } },
        scales: {
          x: {
            type: "linear", min: cbMin, max: cbMax,
            afterBuildTicks: (s) => { s.ticks = cbTicks.map((value) => ({ value })); },
            afterFit: (s) => { s.height = H - 31.5; },
            ticks: { autoSkip: false, maxRotation: 0, padding: 7, color: INK, font: { family: FONT, size: 16.5 }, callback: (v) => "\u2212" + Math.abs(v) },
            grid: { display: true, drawOnChartArea: false, drawTicks: true, tickLength: 6, tickColor: "#111", tickWidth: 1.2 },
            border: { display: false },
          },
          y: { type: "linear", min: 0, max: 1, display: false },
        },
      },
    });
    return () => chart.destroy();
  }, []);
  return <canvas ref={ref} width={670} height={65} style={canvasStyle(395, 705, 670, 65)} />;
}

export default function App() {
  return (
    <div style={{ position: "fixed", left: 0, top: 0, width: 1331, height: 770, background: "#fff", overflow: "hidden" }}>
      {panels.map((p) => <PanelChart key={p.letter} p={p} />)}
      <ColorBar />
    </div>
  );
}
